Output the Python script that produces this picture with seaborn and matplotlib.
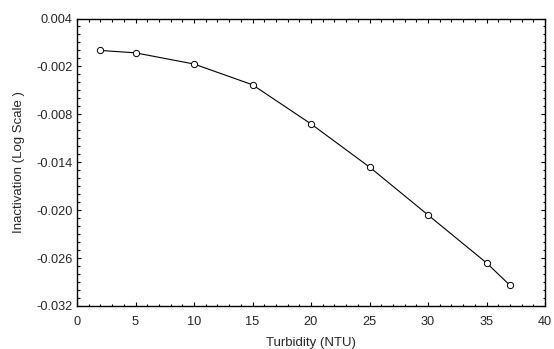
import numpy as np
import pandas as pd
import matplotlib
matplotlib.use("Agg")
import matplotlib.pyplot as plt
import matplotlib.ticker as mticker
import seaborn as sns

# data
turbidity = [2, 5, 10, 15, 20, 25, 30, 35, 37]
inactivation = [0.0000, -0.0003, -0.0017, -0.0043, -0.0092, -0.0146, -0.0206, -0.0266, -0.0294]

x_ticks = [0, 5, 10, 15, 20, 25, 30, 35, 40]
y_ticks = [0.004, -0.002, -0.008, -0.014, -0.020, -0.026, -0.032]
y_tick_labels = ["0.004", "-0.002", "-0.008", "-0.014", "-0.020", "-0.026", "-0.032"]

df = pd.DataFrame({"Turbidity": turbidity, "Inactivation": inactivation})

sns.set_style("ticks")
plt.rcParams["font.family"] = ["Liberation Sans", "DejaVu Sans"]

fig = plt.figure(figsize=(5.54, 3.49), dpi=100)
ax = fig.add_axes([77 / 554, 1 - 306 / 349, 468 / 554, 287.5 / 349])

sns.lineplot(data=df, x="Turbidity", y="Inactivation", ax=ax,
             color="black", linewidth=0.8, marker="o", markersize=4.5,
             markerfacecolor="white", markeredgecolor="black",
             markeredgewidth=0.7)

ax.set_xlim(0, 40)
ax.set_ylim(-0.032, 0.004)
ax.set_xticks(x_ticks)
ax.set_xticklabels([str(t) for t in x_ticks])
ax.set_yticks(y_ticks)
ax.set_yticklabels(y_tick_labels)
ax.xaxis.set_minor_locator(mticker.MultipleLocator(1))
ax.yaxis.set_minor_locator(mticker.MultipleLocator(0.001))

ax.tick_params(which="both", direction="in", top=True, right=True,
               color="black", width=0.8)
ax.tick_params(which="major", length=3, labelsize=9.2)
ax.tick_params(which="minor", length=1.8)
ax.tick_params(axis="x", which="major", pad=7)
ax.tick_params(axis="y", which="major", pad=3)

for s in ax.spines.values():
    s.set_visible(True)
    s.set_linewidth(1.0)
    s.set_color("black")

ax.set_xlabel("Turbidity (NTU)", fontsize=9.5, labelpad=7)
ax.set_ylabel("Inactivation (Log Scale )", fontsize=9.5, labelpad=8)
ax.grid(False)

fig.savefig("out.png", dpi=100)
